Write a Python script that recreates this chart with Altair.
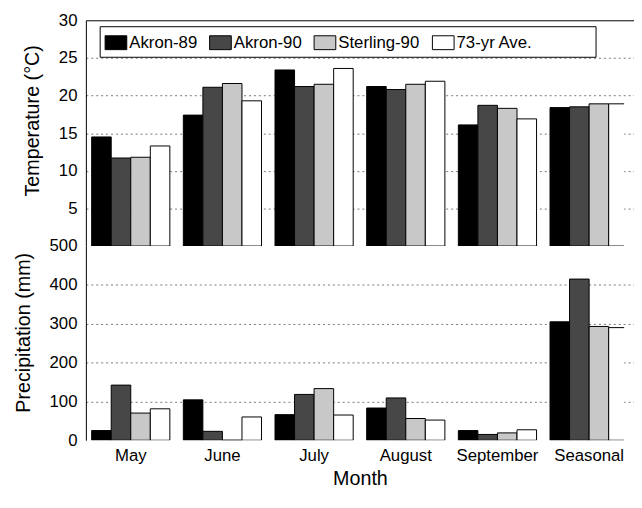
import altair as alt
import pandas as pd

months = ["May", "June", "July", "August", "September", "Seasonal"]
series = ["Akron-89", "Akron-90", "Sterling-90", "73-yr Ave."]
colors = ["#000000", "#474747", "#c8c8c8", "#ffffff"]

temp_akron89 = [14.5, 17.4, 23.4, 21.2, 16.1, 18.4]
temp_akron90 = [11.7, 21.1, 21.2, 20.8, 18.7, 18.5]
temp_sterling90 = [11.8, 21.6, 21.5, 21.5, 18.3, 18.9]
temp_avg73 = [13.3, 19.3, 23.6, 21.9, 16.9, 18.9]

precip_akron89 = [25, 104, 66, 83, 25, 305]
precip_akron90 = [142, 23, 118, 109, 15, 415]
precip_sterling90 = [70, 0, 133, 56, 19, 293]
precip_avg73 = [81, 60, 65, 52, 27, 290]

temps = [temp_akron89, temp_akron90, temp_sterling90, temp_avg73]
precs = [precip_akron89, precip_akron90, precip_sterling90, precip_avg73]

rows = []
for i, m in enumerate(months):
    for s, t, p in zip(series, temps, precs):
        rows.append({"month": m, "series": s, "temp": t[i], "precip": p[i]})
df = pd.DataFrame(rows)

FONT = "Liberation Sans"
W = 546
STEP_RANGE = 556  # band range slightly wider than the view: last bar is clipped

xscale = alt.Scale(domain=months, paddingInner=0.147, paddingOuter=0.063,
                   range=[0, STEP_RANGE])
xoff = alt.XOffset("series:N", scale=alt.Scale(domain=series), sort=series)

legend = alt.Legend(
    orient="none", legendX=14, legendY=6, direction="horizontal",
    title="\u00a0", titleOrient="right", titlePadding=59, titleFontSize=17,
    strokeColor="black", fillColor="white", padding=5,
    symbolType="M-1,-0.64H1V0.64H-1Z", symbolSize=484,
    symbolStrokeColor="black", symbolStrokeWidth=1, symbolOpacity=1,
    labelFont=FONT, labelFontSize=17, labelOffset=2, labelColor="black",
    columnPadding=10,
)

top = alt.Chart(df).mark_bar(stroke="black", strokeWidth=1, clip=True).encode(
    x=alt.X("month:N", scale=xscale, sort=months, axis=None),
    xOffset=xoff,
    y=alt.Y("temp:Q", scale=alt.Scale(domain=[0, 30], nice=False),
            axis=alt.Axis(values=[5, 10, 15, 20, 25, 30], title="Temperature (°C)",
                          titleY=101.5, titlePadding=16, labelPadding=9, ticks=False,
                          domainColor="black",
                          gridColor={"condition": {"test": "datum.value === 30", "value": "black"}, "value": "#777777"},
                          gridDash={"condition": {"test": "datum.value === 30", "value": []}, "value": [2, 3]})),
    fill=alt.Fill("series:N", scale=alt.Scale(domain=series, range=colors), sort=series, legend=legend),
).properties(width=W, height=229)

bottom = alt.Chart(df).mark_bar(stroke="black", strokeWidth=1, clip=True).encode(
    x=alt.X("month:N", scale=xscale, sort=months,
            axis=alt.Axis(orient="bottom", labels=True, ticks=False, domain=False,
                          grid=False, title="Month", labelAngle=0, labelPadding=8,
                          titlePadding=5)),
    xOffset=xoff,
    y=alt.Y("precip:Q", scale=alt.Scale(domain=[0, 500], nice=False),
            axis=alt.Axis(values=[0, 100, 200, 300, 400, 500], title="Precipitation (mm)",
                          titleY=87.5, titlePadding=16, labelPadding=9, ticks=False,
                          domainColor="black", gridColor="#777777", gridDash=[2, 3],
                          gridOpacity={"condition": {"test": "datum.value === 0 || datum.value === 500", "value": 0}, "value": 1})),
    fill=alt.Fill("series:N", scale=alt.Scale(domain=series, range=colors), sort=series, legend=None),
).properties(width=W, height=197)

chart = alt.vconcat(top, bottom, spacing=0, bounds="flush").resolve_scale(
    fill="independent"
).resolve_legend(fill="independent").properties(
    padding={"left": 5, "top": 0, "right": 0, "bottom": 0}
).configure_view(stroke=None).configure_axis(
    labelFont=FONT, labelFontSize=17, labelColor="black",
    titleFont=FONT, titleFontSize=20, titleFontWeight="normal", titleColor="black",
    gridWidth=1,
).configure_legend(labelFont=FONT, titleFont=FONT)

chart.save("out.html", embed_options={"renderer": "svg", "actions": False})
